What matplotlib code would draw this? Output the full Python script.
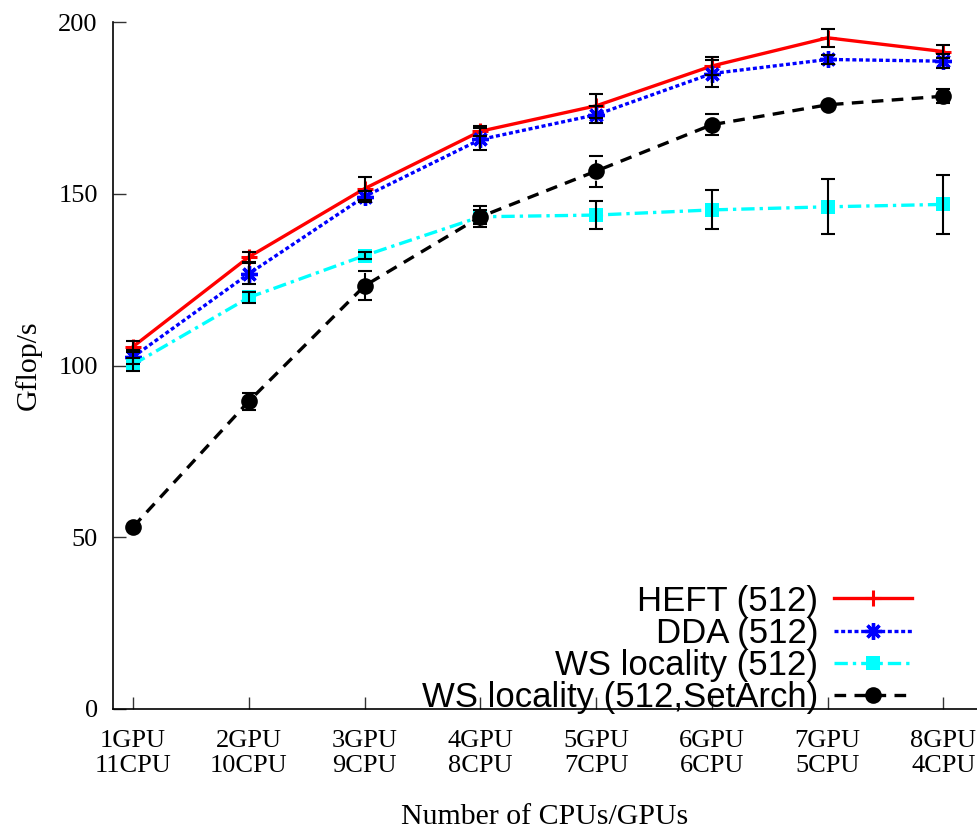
import numpy as np
import matplotlib.pyplot as plt

# configurations: number of GPUs / CPUs used
configs = ['1GPU\n11CPU', '2GPU\n10CPU', '3GPU\n9CPU', '4GPU\n8CPU',
           '5GPU\n7CPU', '6GPU\n6CPU', '7GPU\n5CPU', '8GPU\n4CPU']

heft = [105.5, 131.6, 151.5, 168.2, 175.6, 187.2, 195.4, 191.4]
heft_err = [1.5, 1.5, 3.3, 1.5, 3.5, 2.5, 2.7, 2.0]

dda = [102.5, 126.7, 149.2, 165.8, 173.0, 185.0, 189.1, 188.6]
dda_err = [2.0, 3.0, 1.5, 3.2, 2.5, 4.0, 1.2, 2.0]

ws = [100.3, 119.8, 132.0, 143.3, 143.8, 145.3, 146.2, 146.9]
ws_err = [2.0, 1.5, 1.0, 3.0, 4.2, 5.7, 8.0, 8.7]

ws_arch = [53.0, 89.6, 123.2, 143.3, 156.6, 170.1, 175.9, 178.4]
ws_arch_err = [0.5, 2.5, 4.2, 2.0, 4.5, 3.0, 0.5, 2.0]

x = np.arange(1, len(configs) + 1)

plt.rcParams['font.family'] = ['Liberation Serif', 'DejaVu Serif']

fig = plt.figure(figsize=(9.77, 8.34), dpi=100)
ax = fig.add_axes([0.1157, 0.1499, 0.8843, 0.8237])

series = [
    ('HEFT (512)', heft, heft_err, dict(color='#ff0000', linestyle='-', marker='+', markersize=12, markeredgewidth=2.2)),
    ('DDA (512)', dda, dda_err, dict(color='#0000ff', linestyle=(0, (1.2, 0.8)), marker=(8, 2, 0), markersize=12, markeredgewidth=2.4)),
    ('WS locality (512)', ws, ws_err, dict(color='#00ffff', linestyle=(0, (4, 1.5, 1, 1.5)), marker='s', markersize=10.5, markeredgewidth=0)),
    ('WS locality (512,SetArch)', ws_arch, ws_arch_err, dict(color='black', linestyle=(0, (3.5, 2.5)), marker='o', markersize=12, markeredgewidth=0)),
]

for label, vals, errs, style in series:
    ax.plot(x, vals, linewidth=2.4, label=label, zorder=2, **style)

for label, vals, errs, style in series:
    eb = ax.errorbar(x, vals, yerr=errs, fmt='none', ecolor='black',
                     elinewidth=1.5, capsize=5, capthick=1.5, zorder=3)
    if label.endswith('SetArch)'):
        for col in eb[2]:
            col.set_linestyle((0, (3, 2)))

ax.set_xlim(0.827, 8.29)
ax.set_ylim(0, 200)
ax.set_xticks(x)
ax.set_xticklabels(configs, fontsize=19, linespacing=1.2)
ax.set_yticks([0, 50, 100, 150, 200])
ax.tick_params(axis='both', direction='in', length=9, width=1, color='#333333', labelsize=19)
ax.tick_params(axis='x', pad=15)
ax.tick_params(axis='y', pad=11)

for side in ['top', 'right']:
    ax.spines[side].set_visible(False)
for side in ['left', 'bottom']:
    ax.spines[side].set_linewidth(1.2)

ax.set_ylabel('Gflop/s', fontsize=21.5, labelpad=12)
ax.set_xlabel('Number of CPUs/GPUs', fontsize=21.5, labelpad=19)

leg = ax.legend(loc='lower right', bbox_to_anchor=(0.925, -0.008), frameon=False,
                markerfirst=False, handlelength=2.25, handletextpad=0.46,
                labelspacing=-0.02, borderaxespad=0, borderpad=0,
                prop={'family': 'Liberation Sans', 'size': 25})

fig.savefig('out.png', dpi=100)
